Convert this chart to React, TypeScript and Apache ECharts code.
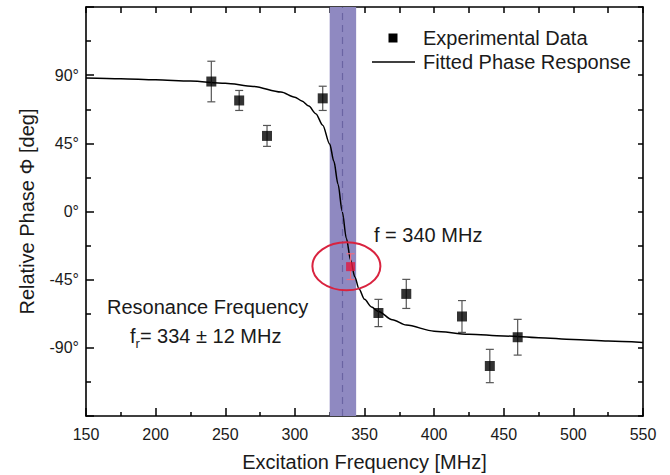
import React, { useEffect, useRef } from "react";
import * as echarts from "echarts";

// Experimental data (MHz, degrees)
const expFreq = [240, 260, 280, 320, 360, 380, 420, 440, 460];
const expPhase = [85.8, 73.3, 49.9, 74.7, -67.0, -54.4, -69.3, -102.0, -83.0];
const expErr = [13.4, 6.6, 6.9, 8.0, 9.0, 9.6, 10.5, 11.0, 11.8];

// Highlighted point
const markFreq = [340];
const markPhase = [-36.4];
const markErr = [8.5];

// Fitted phase response
const fitFreq = [150, 175, 200, 225, 250, 270, 290, 300, 305, 310, 315, 320, 325, 328, 331, 334, 337, 340, 343, 346, 350, 355, 360, 370, 380, 400, 425, 450, 475, 500, 525, 550];
const fitPhase = [88.2, 87.7, 87.0, 86.1, 84.6, 82.6, 78.9, 75.5, 73.0, 69.6, 64.6, 57.0, 44.5, 33.1, 18.0, 0, -17.8, -32.0, -43.0, -51.0, -58.0, -63.0, -66.0, -71.5, -75.0, -79.0, -81.0, -82.2, -83.3, -84.5, -85.5, -86.5];

// Resonance band
const resonance = 334;
const bandLow = 325;
const bandHigh = 344;

const xTicks = { min: 150, max: 550, interval: 50 };
const yTicks = { min: -135, max: 135, interval: 45 };

const FONT = "'Liberation Sans', Arial, Helvetica, sans-serif";
const TXT = "#1a1a1a";

export default function App() {
  const ref = useRef<HTMLDivElement>(null);
  useEffect(() => {
    if (!ref.current) return;
    const chart = echarts.init(ref.current, null, { renderer: "svg" });

    const errData = expFreq.map((f, i) => [f, expPhase[i] - expErr[i], expPhase[i] + expErr[i]]);
    const markErrData = markFreq.map((f, i) => [f, markPhase[i] - markErr[i], markPhase[i] + markErr[i]]);

    const errRender = (color: string) => (params: any, api: any) => {
      const x = api.value(0);
      const lo = api.value(1);
      const hi = api.value(2);
      const t = api.coord([x, hi]);
      const b = api.coord([x, lo]);
      const w = 4;
      const st = { stroke: color, lineWidth: 1.2 };
      return {
        type: "group",
        children: [
          { type: "line", shape: { x1: t[0], y1: t[1], x2: b[0], y2: b[1] }, style: st },
          { type: "line", shape: { x1: t[0] - w, y1: t[1], x2: t[0] + w, y2: t[1] }, style: st },
          { type: "line", shape: { x1: b[0] - w, y1: b[1], x2: b[0] + w, y2: b[1] }, style: st },
        ],
      };
    };

    const axisLine = { show: true, onZero: false, lineStyle: { color: "#000", width: 1.6 } };

    const option: any = {
      animation: false,
      backgroundColor: "#fff",
      grid: { left: 86, right: 27, top: 7, bottom: 59, containLabel: false, outerBoundsMode: "none" },
      xAxis: [
        {
          type: "value",
          position: "bottom",
          min: xTicks.min,
          max: xTicks.max,
          interval: xTicks.interval,
          axisLine,
          axisTick: { show: true, inside: true, length: 8, lineStyle: { color: "#000", width: 1.5 } },
          minorTick: { show: true, splitNumber: 2, length: 4, lineStyle: { color: "#000", width: 1.5 } },
          splitLine: { show: false },
          minorSplitLine: { show: false },
          axisLabel: { fontSize: 16, color: TXT, fontFamily: FONT, margin: 10 },
          name: "Excitation Frequency [MHz]",
          nameLocation: "middle",
          nameGap: 36,
          nameMoveOverlap: false,
          nameTextStyle: { fontSize: 20, color: TXT, fontFamily: FONT },
        },
        {
          type: "value",
          position: "top",
          min: xTicks.min,
          max: xTicks.max,
          interval: 25,
          axisLine,
          axisTick: { show: true, inside: true, length: 6, lineStyle: { color: "#000", width: 1.5 } },
          splitLine: { show: false },
          axisLabel: { show: false },
        },
      ],
      yAxis: [
        {
          type: "value",
          position: "left",
          min: yTicks.min,
          max: yTicks.max,
          interval: yTicks.interval,
          axisLine,
          axisTick: { show: true, inside: true, length: 8, lineStyle: { color: "#000", width: 1.5 } },
          minorTick: { show: true, splitNumber: 2, length: 5, lineStyle: { color: "#000", width: 1.5 } },
          splitLine: { show: false },
          minorSplitLine: { show: false },
          axisLabel: {
            fontSize: 16,
            color: TXT,
            fontFamily: FONT,
            margin: 7,
            formatter: (v: number) => (Math.abs(v) <= 90 ? `${v}°` : ""),
          },
          name: "Relative Phase Φ [deg]",
          nameLocation: "middle",
          nameGap: 49,
          nameMoveOverlap: false,
          nameTextStyle: { fontSize: 20, color: TXT, fontFamily: FONT },
        },
        {
          type: "value",
          position: "right",
          min: yTicks.min,
          max: yTicks.max,
          interval: 22.5,
          axisLine,
          axisTick: { show: true, inside: true, length: 5, lineStyle: { color: "#000", width: 1.5 } },
          splitLine: { show: false },
          axisLabel: { show: false },
        },
      ],
      series: [
        {
          type: "line",
          name: "band",
          data: [],
          z: 1,
          markArea: {
            silent: true,
            itemStyle: { color: "#8f89c1" },
            data: [[{ xAxis: bandLow }, { xAxis: bandHigh }]],
          },
          markLine: {
            silent: true,
            symbol: "none",
            label: { show: false },
            lineStyle: { color: "#6a64a3", width: 1.2, type: [7, 5] },
            data: [{ xAxis: resonance }],
          },
        },
        {
          type: "line",
          name: "Fitted Phase Response",
          data: fitFreq.map((f, i) => [f, fitPhase[i]]),
          showSymbol: false,
          smooth: 0.3,
          smoothMonotone: "x",
          lineStyle: { color: "#000", width: 1.5 },
          z: 3,
        },
        {
          type: "custom",
          name: "errors",
          data: errData,
          encode: { x: 0, y: [1, 2] },
          renderItem: errRender("#555"),
          z: 4,
        },
        {
          type: "custom",
          name: "markErrors",
          data: markErrData,
          encode: { x: 0, y: [1, 2] },
          renderItem: errRender("#ef6b80"),
          z: 4,
        },
        {
          type: "scatter",
          name: "Experimental Data",
          data: expFreq.map((f, i) => [f, expPhase[i]]),
          symbol: "rect",
          symbolSize: 10,
          itemStyle: { color: "#000" },
          z: 5,
        },
        {
          type: "scatter",
          name: "f = 340 MHz",
          data: markFreq.map((f, i) => [f, markPhase[i]]),
          symbol: "rect",
          symbolSize: 9,
          itemStyle: { color: "#e2183f" },
          z: 5,
        },
      ],
    };

    chart.setOption(option);

    const c = chart.convertToPixel({ xAxisIndex: 0, yAxisIndex: 0 }, [337, -36.2]) as number[];

    chart.setOption({
      graphic: [
        {
          type: "ellipse",
          shape: { cx: c[0], cy: c[1], rx: 34, ry: 24 },
          style: { fill: "none", stroke: "#d9233f", lineWidth: 2 },
          z: 10,
        },
        // legend
        {
          type: "rect",
          shape: { x: 388.5, y: 33.5, width: 9, height: 9 },
          style: { fill: "#000" },
          z: 10,
        },
        {
          type: "text",
          x: 423,
          y: 38,
          style: { text: "Experimental Data", fontSize: 20, fontFamily: FONT, fill: TXT, align: "left", verticalAlign: "middle" },
          z: 10,
        },
        {
          type: "line",
          shape: { x1: 372, y1: 62, x2: 415, y2: 62 },
          style: { stroke: "#000", lineWidth: 1.5 },
          z: 10,
        },
        {
          type: "text",
          x: 423,
          y: 62,
          style: { text: "Fitted Phase Response", fontSize: 20, fontFamily: FONT, fill: TXT, align: "left", verticalAlign: "middle" },
          z: 10,
        },
        // annotations
        {
          type: "text",
          x: 374,
          y: 235,
          style: { text: "f = 340 MHz", fontSize: 20, fontFamily: FONT, fill: TXT, align: "left", verticalAlign: "middle" },
          z: 10,
        },
        {
          type: "text",
          x: 107,
          y: 307,
          style: { text: "Resonance Frequency", fontSize: 20, fontFamily: FONT, fill: TXT, align: "left", verticalAlign: "middle" },
          z: 10,
        },
        {
          type: "text",
          x: 130,
          y: 336,
          style: {
            text: "{a|f}{b|r}{a|= 334 ± 12 MHz}",
            fontFamily: FONT,
            fill: TXT,
            align: "left",
            verticalAlign: "middle",
            rich: {
              a: { fontSize: 20, lineHeight: 28, fontFamily: FONT, fill: TXT, color: TXT },
              b: { fontSize: 13, lineHeight: 13, verticalAlign: "bottom", fontFamily: FONT, fill: TXT, color: TXT },
            },
          },
          z: 10,
        },
      ],
    });

    return () => chart.dispose();
  }, []);

  return (
    <div
      ref={ref}
      style={{ position: "fixed", left: 0, top: 0, width: 670, height: 475, background: "#fff" }}
    />
  );
}
